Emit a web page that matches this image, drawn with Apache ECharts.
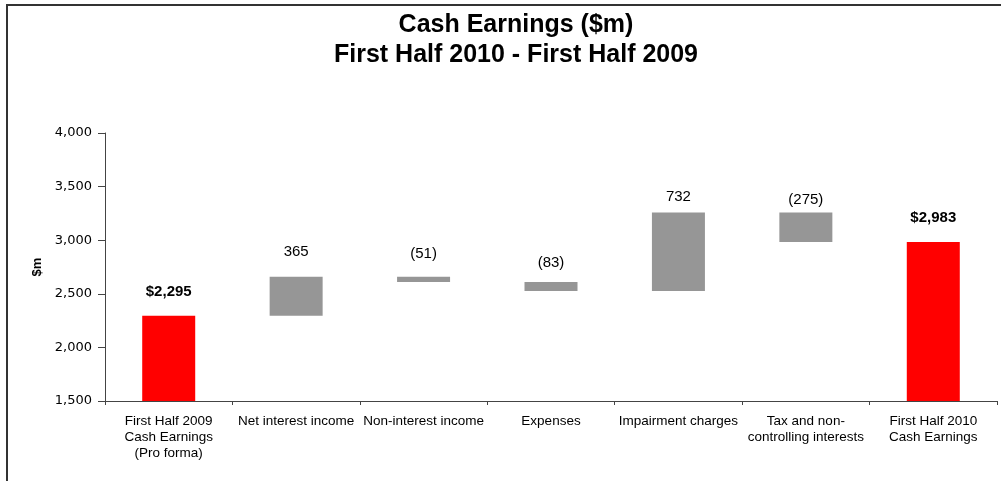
<!DOCTYPE html>
<html>
<head>
<meta charset="utf-8">
<script src="https://cdn.jsdelivr.net/npm/echarts@6/dist/echarts.min.js"></script>
<style>
  html, body { margin: 0; padding: 0; background: #ffffff; }
  #chart { width: 1001px; height: 481px; }
</style>
</head>
<body>
<div id="chart"></div>
<script>
// ---- data ----
const categories = [
  'First Half 2009\nCash Earnings\n(Pro forma)',
  'Net interest income',
  'Non-interest income',
  'Expenses',
  'Impairment charges',
  'Tax and non-\ncontrolling interests',
  'First Half 2010\nCash Earnings'
];
const startValue = 2295;
const changes = [365, -51, -83, 732, -275];
const endValue = 2983;
const valueLabels = ['$2,295', '365', '(51)', '(83)', '732', '(275)', '$2,983'];
const yTicks = { min: 1500, max: 4000, interval: 500 };

// ---- style constants ----
const labelGap = [16, 17.5, 15.5, 12, 8.5, 5, 16.5];
const RED = '#ff0000';
const GREY = '#969696';

// build waterfall (invisible base + visible part)
const baseData = [0];
const barData = [startValue];
let running = startValue;
changes.forEach(c => {
  if (c >= 0) { baseData.push(running); barData.push(c); running += c; }
  else { running += c; baseData.push(running); barData.push(-c); }
});
baseData.push(0);
barData.push(endValue);

const lastIdx = barData.length - 1;
const visible = barData.map((v, i) => {
  const isTotal = (i === 0 || i === lastIdx);
  return {
    value: v,
    itemStyle: { color: isTotal ? RED : GREY },
    label: {
      show: true,
      position: 'top',
      distance: labelGap[i],
      formatter: valueLabels[i],
      fontFamily: 'Liberation Sans, Arial, sans-serif',
      fontSize: 15,
      fontWeight: isTotal ? 'bold' : 'normal',
      color: '#000'
    }
  };
});

const chart = echarts.init(document.getElementById('chart'), null, { renderer: 'canvas' });
chart.setOption({
  animation: false,
  backgroundColor: '#ffffff',
  title: {
    text: 'Cash Earnings ($m)\nFirst Half 2010 - First Half 2009',
    left: 511,
    top: 5,
    textAlign: 'center',
    textStyle: {
      fontFamily: 'Liberation Sans, Arial, sans-serif',
      fontSize: 25,
      fontWeight: 'bold',
      color: '#000',
      lineHeight: 30
    }
  },
  graphic: [{
    type: 'rect',
    shape: { x: 7, y: 5, width: 1100, height: 600 },
    style: { fill: 'none', stroke: '#333333', lineWidth: 2 },
    silent: true
  }],
  grid: { left: 105, right: 4, top: 133, bottom: 80, containLabel: false },
  xAxis: {
    type: 'category',
    data: categories,
    boundaryGap: true,
    axisLine: { show: true, lineStyle: { color: '#444444', width: 1 } },
    axisTick: { show: true, length: 4, lineStyle: { color: '#444444' } },
    axisLabel: {
      interval: 0,
      margin: 12,
      fontFamily: 'Liberation Sans, Arial, sans-serif',
      fontSize: 13.5,
      lineHeight: 16,
      color: '#000',
      align: 'center'
    }
  },
  yAxis: {
    type: 'value',
    min: yTicks.min,
    max: yTicks.max,
    interval: yTicks.interval,
    name: '$m',
    nameLocation: 'middle',
    nameGap: 55,
    nameTextStyle: {
      fontFamily: 'Liberation Sans, Arial, sans-serif',
      fontSize: 13,
      fontWeight: 'bold',
      color: '#000'
    },
    splitLine: { show: false },
    axisLine: { show: true, lineStyle: { color: '#444444', width: 1 } },
    axisTick: { show: true, length: 7, lineStyle: { color: '#444444' } },
    axisLabel: {
      margin: 13,
      fontFamily: 'DejaVu Sans, Verdana, sans-serif',
      fontSize: 13,
      color: '#000',
      formatter: v => v.toLocaleString('en-US')
    }
  },
  series: [
    {
      type: 'bar',
      stack: 'w',
      data: baseData,
      barWidth: 53,
      itemStyle: { color: 'transparent' },
      emphasis: { disabled: true },
      silent: true
    },
    {
      type: 'bar',
      stack: 'w',
      data: visible,
      barWidth: 53
    }
  ]
});
</script>
</body>
</html>
